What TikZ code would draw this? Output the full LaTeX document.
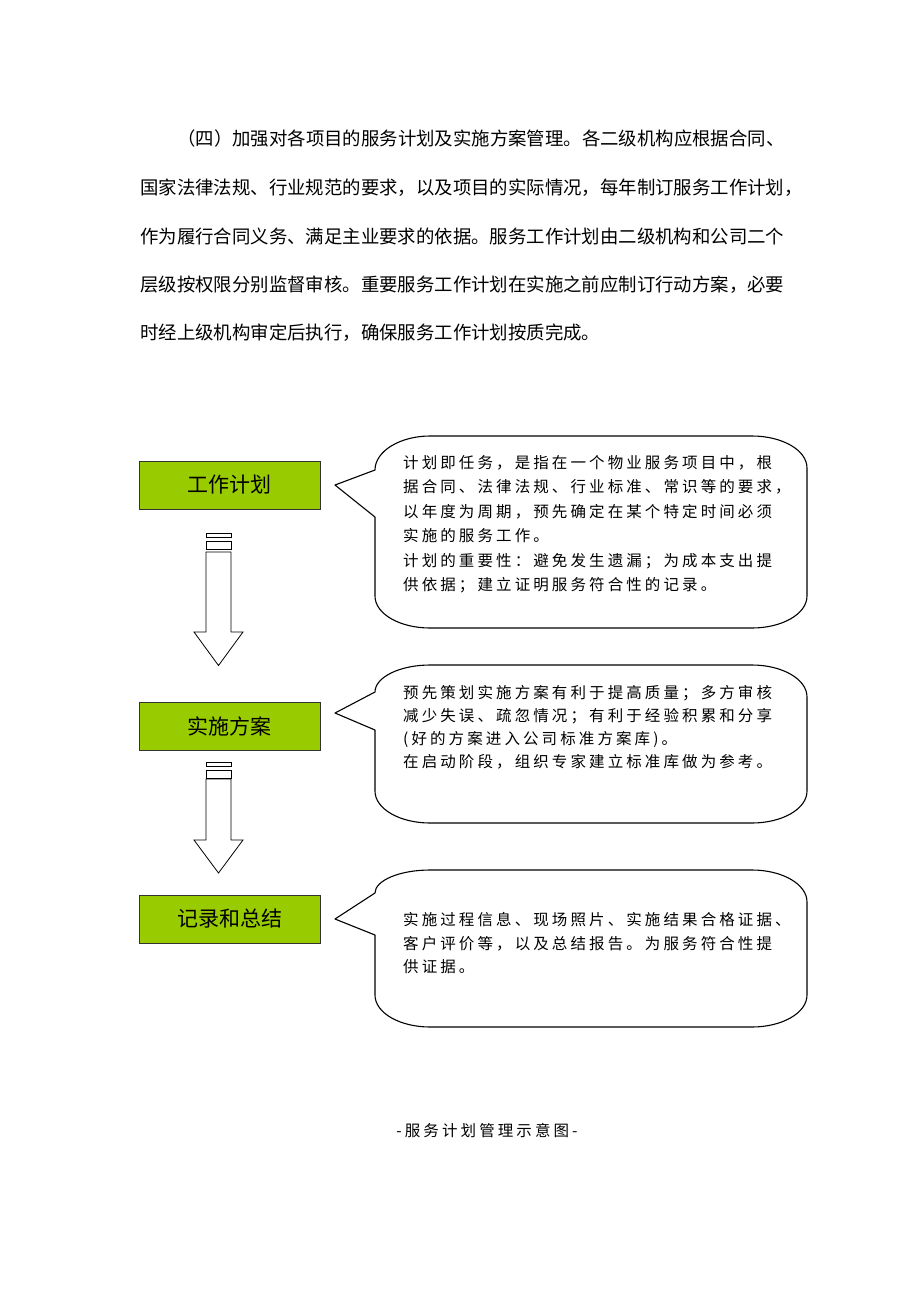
\documentclass[tikz,border=0pt]{standalone}
\usepackage{fontspec}
\setmainfont{Noto Sans CJK SC}
\newfontfamily\boxfont{Noto Sans CJK SC}
\newfontfamily\callfont[LetterSpace=20]{Noto Sans CJK SC}
\XeTeXlinebreaklocale "zh"
\XeTeXlinebreakskip=0pt plus 3pt
\definecolor{boxgreen}{RGB}{153,204,0}
\tikzset{
  greenbox/.style={draw=black!80, line width=0.9pt, fill=boxgreen, minimum width=181pt, minimum height=48pt, inner sep=0pt, font=\boxfont\fontsize{21}{24}\selectfont},
  callline/.style={draw=black, line width=1.1pt, line join=round},
  blockarrow/.style={draw=black, line width=0.8pt, fill=white},
  calltext/.style={anchor=west, align=left, inner sep=0pt},
  paraline/.style={anchor=west, inner sep=0pt, font=\fontsize{18.4}{22}\selectfont}
}
% L T R B a1 a2 tx ty
\newcommand\mycallout[8]{%
  \draw[callline] (#1,#5) -- (#7,#8) -- (#1,#6) -- (#1,{#4-32})
    .. controls (#1,{#4-14}) and ({#1+25},#4) .. ({#1+55},#4)
    -- ({#3-55},#4)
    .. controls ({#3-25},#4) and (#3,{#4-14}) .. (#3,{#4-32})
    -- (#3,{#2+32})
    .. controls (#3,{#2+14}) and ({#3-25},#2) .. ({#3-55},#2)
    -- ({#1+55},#2)
    .. controls ({#1+25},#2) and (#1,{#5-0.552*(#5-#2)}) .. (#1,#5) -- cycle;}
% x-center, y-top of first small rect, y shaft top, y head base, y tip
\newcommand\myblockarrow[5]{%
  \draw[blockarrow] ({#1-12.5},#2) rectangle ({#1+12.5},{#2+4.5});
  \draw[blockarrow] ({#1-12.5},{#2+8}) rectangle ({#1+12.5},{#2+16.5});
  \draw[blockarrow] ({#1-12.5},#3) -- ({#1+12.5},#3) -- ({#1+12.5},#4) -- ({#1+24.5},#4)
    -- (#1,#5) -- ({#1-24.5},#4) -- ({#1-12.5},#4) -- cycle;}
\begin{document}
\begin{tikzpicture}[x=1pt,y=-1pt]
\useasboundingbox[fill=white] (0,0) rectangle (920,1302);

% paragraph
\node[paraline] (p1) at (140,139) {\makebox[644pt][s]{\hspace*{37pt}（四）加强对各项目的服务计划及实施方案管理。各二级机构应根据合同、}};
\node[paraline] (p2) at (140,187.5) {\makebox[641pt][s]{国家法律法规、行业规范的要求，以及项目的实际情况，每年制订服务工作计划，}};
\node[paraline] (p3) at (140,236) {\makebox[641pt][s]{作为履行合同义务、满足主业要求的依据。服务工作计划由二级机构和公司二个}};
\node[paraline] (p4) at (140,284.5) {\makebox[641pt][s]{层级按权限分别监督审核。重要服务工作计划在实施之前应制订行动方案，必要}};
\node[paraline] (p5) at (140,333) {时经上级机构审定后执行，确保服务工作计划按质完成。};

% green boxes
\node[greenbox] (b1) at (229.5,485) {工作计划};
\node[greenbox] (b2) at (229.5,726) {实施方案};
\node[greenbox] (b3) at (229.5,919) {记录和总结};

% block arrows
\myblockarrow{218.5}{533}{552}{632}{665.5}
\myblockarrow{218.5}{762}{779}{840}{873}

% callouts
\mycallout{375}{436}{807}{628}{470}{517}{335}{485}
\mycallout{375}{665}{807}{823}{692}{730}{335}{713}
\mycallout{375}{870}{807}{1027}{893}{935}{335}{919}

\node[calltext, font=\callfont\fontsize{15.5}{24.5}\selectfont] (t1) at (403,524) {计划即任务，是指在一个物业服务项目中，根\\据合同、法律法规、行业标准、常识等的要求，\\以年度为周期，预先确定在某个特定时间必须\\实施的服务工作。\\计划的重要性：避免发生遗漏；为成本支出提\\供依据；建立证明服务符合性的记录。};
\node[calltext, font=\callfont\fontsize{15.5}{23}\selectfont] (t2) at (403,727.5) {预先策划实施方案有利于提高质量；多方审核\\减少失误、疏忽情况；有利于经验积累和分享\\(好的方案进入公司标准方案库)。\\在启动阶段，组织专家建立标准库做为参考。};
\node[calltext, font=\callfont\fontsize{15.5}{23.5}\selectfont] (t3) at (403,943.5) {实施过程信息、现场照片、实施结果合格证据、\\客户评价等，以及总结报告。为服务符合性提\\供证据。};

% caption
\node[inner sep=0pt, font=\callfont\fontsize{15.5}{20}\selectfont] (cap) at (487,1131) {-服务计划管理示意图-};
\end{tikzpicture}
\end{document}
